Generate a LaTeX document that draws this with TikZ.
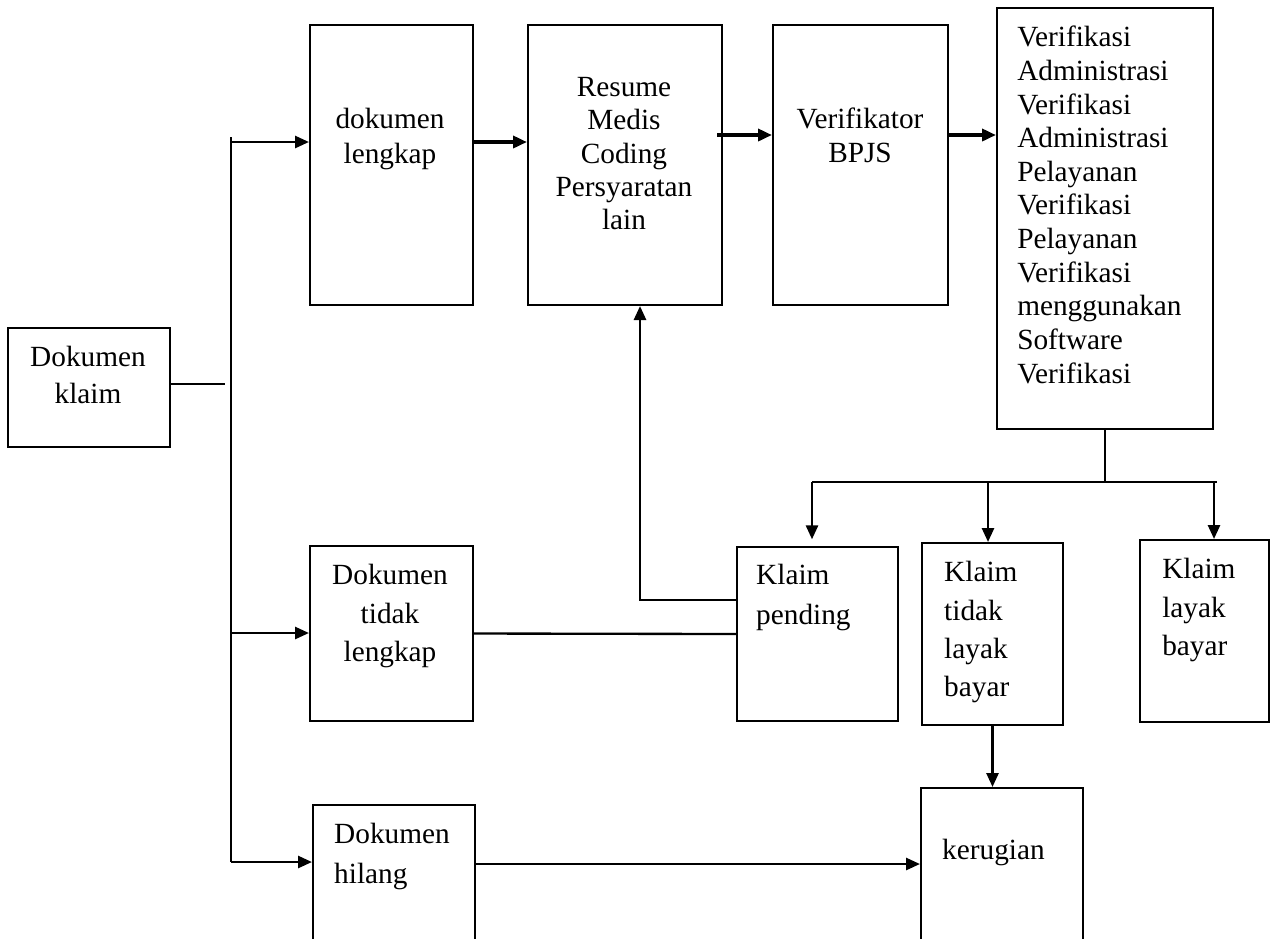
\documentclass[tikz,border=0pt]{standalone}
\usepackage{fontspec}
\setmainfont{Liberation Serif}
\usetikzlibrary{arrows.meta}

\newcommand{\blok}[4]{%
  \node [box, minimum width=#3cm, minimum height=#4cm] (#1) at (#2) {};}

\tikzset{
  box/.style={draw, line width=0.06cm, anchor=north west, inner sep=0pt},
  txt/.style={inner sep=0pt, font=\fontsize{25}{#1}\selectfont},
  txt/.default=29,
  arr/.style={line width=0.08cm, -{Triangle[length=0.42cm,width=0.36cm]}},
  tebal/.style={arr, line width=0.13cm},
  garis/.style={line width=0.07cm}
}

\begin{document}
\begin{tikzpicture}[x=0.03cm, y=-0.03cm]
\clip (0,0) rectangle (1270,938);

% kotak
\blok{klaim}{7,327}{4.86}{3.57}
\blok{lengkap}{309,24}{4.89}{8.4}
\blok{resume}{527,24}{5.82}{8.4}
\blok{bpjs}{772,24}{5.25}{8.4}
\blok{verif}{996,7}{6.48}{12.63}
\blok{tdklengkap}{309,545}{4.89}{5.25}
\blok{pending}{736,546}{4.83}{5.22}
\blok{tdklayak}{921,542}{4.23}{5.46}
\blok{layak}{1139,539}{3.87}{5.46}
\blok{hilang}{312,804}{4.86}{4.8}
\blok{rugi}{920,787}{4.86}{5.3}

% teks
\node[txt=31.5, align=center, anchor=north] (klaimT) at (88,346) {Dokumen\\klaim};
\node[txt=30, align=center, anchor=north] (lengkapT) at (390,108) {dokumen\\lengkap};
\node[txt=28.5, align=center, anchor=north] (resumeT) at (624,77) {Resume\\Medis\\Coding\\Persyaratan\\lain};
\node[txt, align=center, anchor=north] (bpjsT) at (860,108) {Verifikator\\BPJS};
\node[txt=28.7, align=left, anchor=north west] (verifT) at (1017,26)
  {Verifikasi\\Administrasi\\Verifikasi\\Administrasi\\Pelayanan\\Verifikasi\\Pelayanan\\Verifikasi\\menggunakan\\Software\\Verifikasi};
\node[txt=32.8, align=center, anchor=north] (tdklengkapT) at (390,564) {Dokumen\\tidak\\lengkap};
\node[txt=34, align=left, anchor=north west] (pendingT) at (756,564) {Klaim\\pending};
\node[txt=32.8, align=left, anchor=north west] (tdklayakT) at (944,561) {Klaim\\tidak\\layak\\bayar};
\node[txt=32.8, align=left, anchor=north west] (layakT) at (1162,558) {Klaim\\layak\\bayar};
\node[txt=34, align=left, anchor=north west] (hilangT) at (334,823) {Dokumen\\hilang};
\node[txt, align=left, anchor=north west] (rugiT) at (942,839) {kerugian};

% garis dan panah
\coordinate (kj) at (225,384);
\coordinate (b0) at (231,137);
\coordinate (b1) at (231,142);
\coordinate (b2) at (231,633);
\coordinate (b3) at (231,862);
\draw[garis] (klaim.east |- kj) -- (kj);
\draw[garis] (b0) -- (b3);
\draw[arr] (b1) -- (b1 -| lengkap.west);
\draw[arr] (b2) -- (b2 -| tdklengkap.west);
\draw[arr] (b3) -- (b3 -| hilang.west);

\draw[tebal] (lengkap.east |- b1) -- (resume.west |- b1);
\coordinate (r1) at (717,135);
\draw[tebal] (r1) -- (r1 -| bpjs.west);
\draw[tebal] (bpjs.east |- r1) -- (verif.west |- r1);

% cabang hasil verifikasi
\coordinate (h1) at (812,482);
\coordinate (h2) at (988,482);
\coordinate (h3) at (1214,482);
\draw[garis] (verif.south) -- (verif.south |- h1);
\draw[garis] (h1) -- (1217,482);
\draw[arr, shorten >=0.2cm] (h1) -- (h1 |- pending.north);
\draw[arr] (h2) -- (h2 |- tdklayak.north);
\draw[arr] (h3) -- (h3 |- layak.north);

\coordinate (fb) at (640,600);
\draw[arr] (pending.west |- fb) -- (fb) -- (fb |- resume.south);
\draw[garis] (tdklengkap.east) -- (pending.west);
\draw[arr] (tdklayak.south) -- (tdklayak.south |- rugi.north);
\coordinate (hk) at (475,864);
\draw[arr] (hk) -- (hk -| rugi.west);

\end{tikzpicture}
\end{document}
